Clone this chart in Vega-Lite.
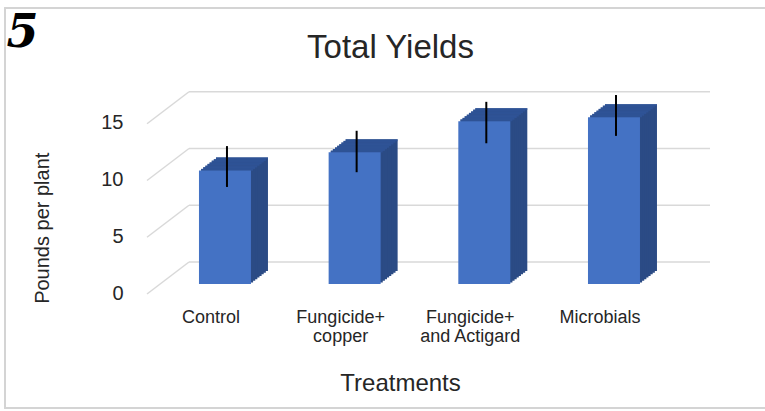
{
  "$schema": "https://vega.github.io/schema/vega-lite/v6.json",
  "width": 563,
  "height": 170.25,
  "autosize": {"type": "none"},
  "padding": {"left": 147, "top": 113.75, "right": 55, "bottom": 127},
  "background": "white",
  "config": {
    "view": {"stroke": null},
    "font": "Liberation Sans",
    "axis": {"grid": false, "domain": false, "ticks": false, "tickSize": 0, "labelColor": "#262626", "titleColor": "#262626", "titleFontWeight": "normal"}
  },
  "title": {"text": "Total Yields", "fontSize": 33, "fontWeight": "normal", "font": "Liberation Sans", "color": "#262626", "anchor": "middle", "dx": -38, "offset": -84, "baseline": "alphabetic"},
  "datasets": {
    "yields": [
      {"treatment": "Control", "yield": 10.0, "lo": 8.55, "hi": 12.15},
      {"treatment": "Fungicide+ copper", "yield": 11.6, "lo": 9.85, "hi": 13.5},
      {"treatment": "Fungicide+ and Actigard", "yield": 14.35, "lo": 12.4, "hi": 16.05},
      {"treatment": "Microbials", "yield": 14.7, "lo": 13.05, "hi": 16.65}
    ],
    "levels": [{"level": 0}, {"level": 5}, {"level": 10}, {"level": 15}]
  },
  "resolve": {"scale": {"x": "independent"}},
  "layer": [
    {
      "data": {"name": "levels"},
      "layer": [
        {
          "mark": {"type": "rule", "color": "#d9d9d9", "strokeWidth": 1.5, "xOffset": 42, "yOffset": -22, "y2Offset": -22},
          "encoding": {
            "x": {"datum": 0, "type": "quantitative", "scale": {"domain": [0, 1]},
              "axis": {"orient": "top", "labels": false, "ticks": false, "domain": false, "grid": false, "title": "5", "titleFont": "DejaVu Serif", "titleFontStyle": "italic", "titleFontWeight": "bold", "titleFontSize": 46, "titleColor": "#000000", "titleAnchor": "start", "titleAlign": "left", "titleX": -141, "titleY": -67, "titleBaseline": "alphabetic"}},
            "x2": {"datum": 1},
            "y": {"field": "level", "type": "quantitative", "scale": {"domain": [0, 15], "nice": false}, "title": "Pounds per plant"},
            "y2": {"field": "level"}
          }
        },
        {
          "mark": {"type": "rule", "color": "#d9d9d9", "strokeWidth": 1.5, "yOffset": 10, "x2Offset": 42, "y2Offset": -22},
          "encoding": {
            "x": {"datum": 0, "type": "quantitative"},
            "x2": {"datum": 0},
            "y": {"field": "level", "type": "quantitative", "title": "Pounds per plant"},
            "y2": {"field": "level"}
          }
        },
        {
          "mark": {"type": "rect", "fill": null, "filled": false, "stroke": "#d4d4d4", "strokeWidth": 1.5, "xOffset": -142, "x2Offset": 80, "yOffset": -105.75, "y2Offset": 124},
          "encoding": {
            "x": {"datum": 0, "type": "quantitative"},
            "x2": {"datum": 1},
            "y": {"datum": 15, "type": "quantitative", "title": "Pounds per plant"},
            "y2": {"datum": 0}
          }
        }
      ]
    },
    {
      "data": {"name": "yields"},
      "encoding": {
        "x": {"field": "treatment", "type": "nominal", "sort": null,
          "scale": {"paddingInner": 0.599, "paddingOuter": 0.4704, "align": 0.426},
          "axis": {"title": "Treatments", "labelExpr": "split(replace(datum.label, '+ ', '+|'), '|')", "labelAngle": 0, "labelFontSize": 18, "labelPadding": 24, "labelOffset": -14, "labelLineHeight": 19, "labelBaseline": "top", "titleFontSize": 24, "titleX": 253, "titleY": 99, "titleBaseline": "middle"}},
        "y": {"field": "yield", "type": "quantitative", "title": "Pounds per plant",
          "axis": {"values": [0, 5, 10, 15], "labelFontSize": 20, "labelPadding": 24, "labelOffset": 9, "labelBaseline": "middle", "titleFontSize": 20, "titleX": -105, "titleY": 114, "titleBaseline": "middle", "titleAlign": "center", "titleAngle": -90}}
      },
      "layer": [
        {"mark": {"type": "bar", "color": "#2B4B85", "xOffset": 17, "x2Offset": 17, "yOffset": -13, "y2Offset": -13}},
        {"mark": {"type": "bar", "color": "#2B4B85", "xOffset": 14.875, "x2Offset": 14.875, "yOffset": -11.375, "y2Offset": -11.375}},
        {"mark": {"type": "bar", "color": "#2B4B85", "xOffset": 12.75, "x2Offset": 12.75, "yOffset": -9.75, "y2Offset": -9.75}},
        {"mark": {"type": "bar", "color": "#2B4B85", "xOffset": 10.625, "x2Offset": 10.625, "yOffset": -8.125, "y2Offset": -8.125}},
        {"mark": {"type": "bar", "color": "#2B4B85", "xOffset": 8.5, "x2Offset": 8.5, "yOffset": -6.5, "y2Offset": -6.5}},
        {"mark": {"type": "bar", "color": "#2B4B85", "xOffset": 6.375, "x2Offset": 6.375, "yOffset": -4.875, "y2Offset": -4.875}},
        {"mark": {"type": "bar", "color": "#2B4B85", "xOffset": 4.25, "x2Offset": 4.25, "yOffset": -3.25, "y2Offset": -3.25}},
        {"mark": {"type": "bar", "color": "#2B4B85", "xOffset": 2.125, "x2Offset": 2.125, "yOffset": -1.625, "y2Offset": -1.625}},
        {"mark": {"type": "tick", "color": "#30569B", "size": 52, "thickness": 2, "xOffset": 17, "yOffset": -12.19}},
        {"mark": {"type": "tick", "color": "#30569B", "size": 52, "thickness": 2, "xOffset": 14.875, "yOffset": -10.56}},
        {"mark": {"type": "tick", "color": "#30569B", "size": 52, "thickness": 2, "xOffset": 12.75, "yOffset": -8.94}},
        {"mark": {"type": "tick", "color": "#30569B", "size": 52, "thickness": 2, "xOffset": 10.625, "yOffset": -7.31}},
        {"mark": {"type": "tick", "color": "#30569B", "size": 52, "thickness": 2, "xOffset": 8.5, "yOffset": -5.69}},
        {"mark": {"type": "tick", "color": "#30569B", "size": 52, "thickness": 2, "xOffset": 6.375, "yOffset": -4.06}},
        {"mark": {"type": "tick", "color": "#30569B", "size": 52, "thickness": 2, "xOffset": 4.25, "yOffset": -2.44}},
        {"mark": {"type": "tick", "color": "#30569B", "size": 52, "thickness": 2, "xOffset": 2.125, "yOffset": -0.81}},
        {"mark": {"type": "bar", "color": "#4472C4"}},
        {"mark": {"type": "rule", "color": "#000000", "strokeWidth": 2, "xOffset": 2},
          "encoding": {"y": {"field": "lo", "type": "quantitative", "title": "Pounds per plant"}, "y2": {"field": "hi"}}}
      ]
    }
  ]
}
